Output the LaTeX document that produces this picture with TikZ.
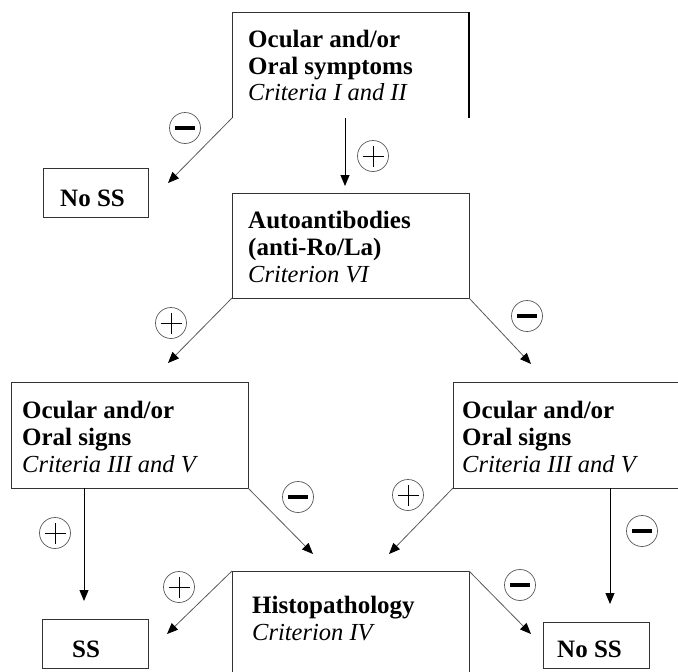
\documentclass[tikz,border=0pt]{standalone}
\usepackage{fontspec}
\setmainfont{Liberation Serif}
\usetikzlibrary{arrows.meta,calc}
\definecolor{edgegray}{gray}{0.2}
\definecolor{linkgray}{gray}{0.35}
\begin{document}
\begin{tikzpicture}[x=1pt,y=-1pt,
  frame/.style={draw=edgegray,line width=0.9pt,inner sep=0pt,outer sep=0pt},
  openframe/.style={inner sep=0pt,outer sep=0pt},
  lbl/.style={anchor=base west,inner sep=0pt,font=\fontsize{25}{28}\selectfont\bfseries},
  crit/.style={anchor=base west,inner sep=0pt,font=\fontsize{24.5}{28}\selectfont\itshape},
  tip/.style={-{Triangle[length=11pt,width=9pt,color=black]}},
  link/.style={tip,draw=linkgray,line width=0.8pt},
  vlink/.style={tip,draw=black,line width=0.9pt},
  sign/.style={circle,draw=linkgray,line width=0.7pt,minimum size=31pt,inner sep=0pt},
  yes/.style={sign,path picture={
      \draw[draw=black,line width=1pt] ([xshift=-10.5pt]path picture bounding box.center) -- ([xshift=10.5pt]path picture bounding box.center);
      \draw[draw=black,line width=1pt] ([yshift=-10.5pt]path picture bounding box.center) -- ([yshift=10.5pt]path picture bounding box.center);}},
  no/.style={sign,path picture={
      \draw[draw=black,line width=3.6pt] ([xshift=-10pt]path picture bounding box.center) -- ([xshift=10pt]path picture bounding box.center);}},
]
\useasboundingbox (0,0) rectangle (678,672);

% ---- boxes ----
\node[openframe,minimum width=237pt,minimum height=106pt] (symp) at (350.5,65) {};
\draw[edgegray,line width=0.9pt] (symp.south west) -- (symp.north west) -- (symp.north east);
\draw[black,line width=2.4pt] (symp.north east) -- (symp.south east);

\node[frame,minimum width=105pt,minimum height=49pt] (noss1) at (95.5,192.5) {};
\node[frame,minimum width=237pt,minimum height=105pt] (auto) at (350.5,245.5) {};
\node[frame,minimum width=237pt,minimum height=106pt] (signl) at (129.5,435) {};

\node[openframe,minimum width=237pt,minimum height=106pt] (signr) at (571.5,435) {};
\draw[edgegray,line width=0.9pt] (678,382) -- (signr.north west) -- (signr.south west) -- (678,488);

\node[openframe,minimum width=237pt,minimum height=101pt] (histo) at (350.5,621.5) {};
\draw[edgegray,line width=0.9pt] (histo.south west) -- (histo.north west) -- (histo.north east) -- (histo.south east);

\node[frame,minimum width=106pt,minimum height=49pt] (ss) at (95,643.5) {};
\node[frame,minimum width=106pt,minimum height=46pt] (noss2) at (596,645) {};

% ---- texts ----
\node[lbl] (t1a) at (248,47) {Ocular and/or};
\node[lbl] (t1b) at (248,74) {Oral symptoms};
\node[crit] (t1c) at (248,100) {Criteria I and II};

\node[lbl] (t2) at (60,206) {No SS};

\node[lbl] (t3a) at (248,228) {Autoantibodies};
\node[lbl] (t3b) at (248,255) {(anti-Ro/La)};
\node[crit] (t3c) at (248,282) {Criterion VI};

\node[lbl] (t4a) at (22,418) {Ocular and/or};
\node[lbl] (t4b) at (22,445) {Oral signs};
\node[crit] (t4c) at (22,472) {Criteria III and V};

\node[lbl] (t5a) at (462,418) {Ocular and/or};
\node[lbl] (t5b) at (462,445) {Oral signs};
\node[crit] (t5c) at (462,472) {Criteria III and V};

\node[lbl] (t6a) at (252,613) {Histopathology};
\node[crit] (t6b) at (252,640) {Criterion IV};

\node[lbl] (t7) at (72,657) {SS};
\node[lbl] (t8) at (557,657) {No SS};

% ---- arrow ends ----
\coordinate (e1) at (168,183);
\coordinate (e2) at (345,186);
\coordinate (e3) at (168,363);
\coordinate (e4) at (531,364);
\coordinate (e5) at (84,601);
\coordinate (e6) at (313,554);
\coordinate (e7) at (389,554);
\coordinate (e8) at (610,604);
\coordinate (e9) at (167,634);
\coordinate (e10) at (531,634);

% ---- connectors ----
\draw[link] (symp.south west) -- (e1);
\draw[vlink] (symp.south -| e2) -- (e2);
\draw[link] (auto.south west) -- (e3);
\draw[link] (auto.south east) -- (e4);
\draw[vlink] (signl.south -| e5) -- (e5);
\draw[link] (signl.south east) -- (e6);
\draw[link] (signr.south west) -- (e7);
\draw[vlink] (signr.south -| e8) -- (e8);
\draw[link] (histo.north west) -- (e9);
\draw[link] (histo.north east) -- (e10);

% ---- outcome marks ----
\node[no] (m1) at (185,128) {};
\node[yes] (m2) at (373,156) {};
\node[yes] (m3) at (171,323) {};
\node[no] (m4) at (527,316) {};
\node[yes] (m5) at (55,533) {};
\node[no] (m6) at (298,497) {};
\node[yes] (m7) at (408,495) {};
\node[no] (m8) at (642,531) {};
\node[yes] (m9) at (179,587) {};
\node[no] (m10) at (520,585) {};
\end{tikzpicture}
\end{document}
